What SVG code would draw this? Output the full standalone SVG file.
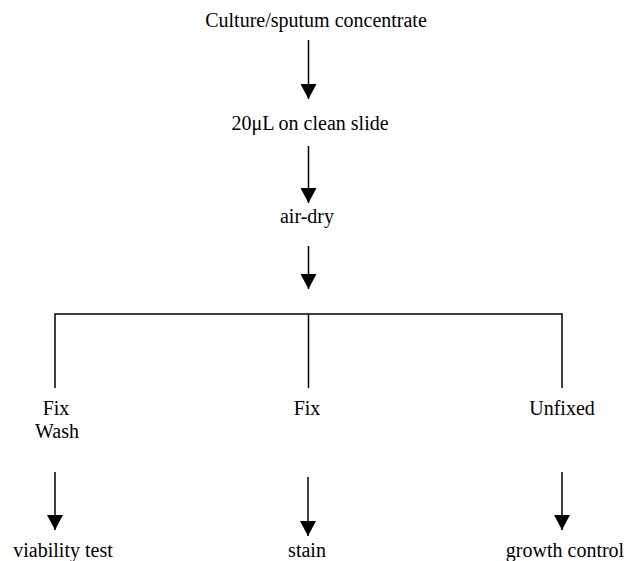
<svg xmlns="http://www.w3.org/2000/svg" width="627" height="561" viewBox="0 0 627 561">
<style>
text{font-family:'Liberation Serif','DejaVu Serif',serif;font-size:20px;fill:#000;text-anchor:middle}
.ln{stroke:#000;stroke-width:1.5;fill:none}
</style>
<defs>
<marker id="ah" markerWidth="16" markerHeight="15" refX="8" refY="15" orient="0" markerUnits="userSpaceOnUse" viewBox="0 0 16 15">
<polygon points="0,0 16,0 8,15" fill="#000"/>
</marker>
</defs>
<rect width="627" height="561" fill="#fff"/>
<g font-family="Liberation Serif, serif">
<g id="n1"><text x="316" y="27">Culture/sputum concentrate</text></g>
<g id="n2"><text x="310" y="130">20μL on clean slide</text></g>
<g id="n3"><text x="307" y="223">air-dry</text></g>
<g id="n4"><text x="56" y="415">Fix</text><text x="57" y="438">Wash</text></g>
<g id="n5"><text x="307" y="415">Fix</text></g>
<g id="n6"><text x="562" y="415">Unfixed</text></g>
<g id="n7"><text x="63" y="557">viability test</text></g>
<g id="n8"><text x="307" y="557">stain</text></g>
<g id="n9"><text x="565" y="557">growth control</text></g>
</g>
<g id="connectors">
<line class="ln" x1="308.5" y1="40" x2="308.5" y2="99" marker-end="url(#ah)"/>
<line class="ln" x1="308.5" y1="146" x2="308.5" y2="203" marker-end="url(#ah)"/>
<line class="ln" x1="308.5" y1="246" x2="308.5" y2="289" marker-end="url(#ah)"/>
<polyline class="ln" points="55,388 55,314 562,314 562,388"/>
<line class="ln" x1="308.5" y1="314" x2="308.5" y2="388"/>
<line class="ln" x1="55" y1="472" x2="55" y2="530" marker-end="url(#ah)"/>
<line class="ln" x1="308" y1="477" x2="308" y2="536" marker-end="url(#ah)"/>
<line class="ln" x1="562" y1="472" x2="562" y2="530" marker-end="url(#ah)"/>
</g>
</svg>
